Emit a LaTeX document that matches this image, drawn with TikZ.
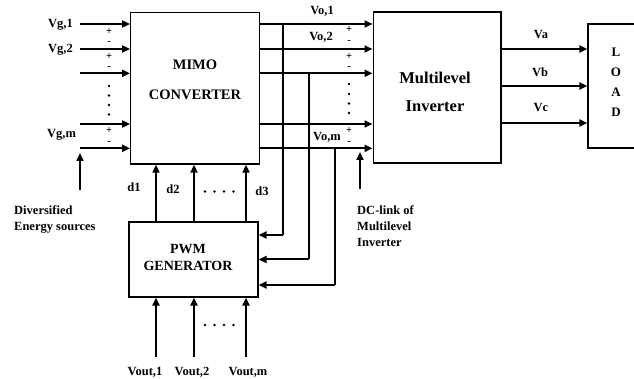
\documentclass[tikz,border=0pt]{standalone}
\usepackage{fontspec}
\setmainfont{Liberation Serif}
\usetikzlibrary{arrows.meta,calc}
\begin{document}
\begin{tikzpicture}[x=1pt,y=-1pt,
  blk/.style={draw,line width=1.3pt,minimum width=#1,inner sep=0pt},
  arr/.style={line width=2pt,-{Triangle[length=8pt,width=7pt]}},
  tap/.style={line width=1.6pt},
  lbl/.style={font=\bfseries\fontsize{12.5}{16}\selectfont,inner sep=0pt},
  sgn/.style={font=\bfseries\fontsize{10.5}{10.5}\selectfont,inner sep=0pt,text height=5pt,text depth=0pt},
  dot/.style={fill,circle,inner sep=0pt,minimum size=2.8pt}]
\useasboundingbox (0,0) rectangle (634,379);
% blocks
\node[blk=128.6pt,minimum height=151.7pt] (mimo) at (195,88.2) {};
\node[blk=127.7pt,minimum height=151pt] (mli) at (437,87.5) {};
\node[blk=50pt,minimum height=124pt] (load) at (613,86) {};
\node[blk=129pt,minimum height=75pt] (pwm) at (193.5,259.5) {};
\node[font=\bfseries\fontsize{14.5}{16}\selectfont,align=center] (mimot) at (195,80) {MIMO\\[14pt]CONVERTER};
\node[font=\bfseries\fontsize{16.5}{18}\selectfont,align=center] (mlit) at (435,91.5) {Multilevel\\[10pt]Inverter};
\node[font=\bfseries\fontsize{14}{17}\selectfont,align=center] (pwmt) at (188,257.5) {PWM\\GENERATOR};
\node[font=\bfseries\fontsize{13}{20}\selectfont,align=center,inner sep=0pt] (loadt) at (616,82) {L\\O\\A\\D};
% row coordinates
\foreach \i/\y in {1/24,2/49,3/73.3,4/124,5/148.3}{\coordinate (r\i) at (0,\y);}
% inputs
\foreach \i in {1,...,5}{\coordinate (in\i) at (80,0|-r\i);
  \draw[arr] (in\i) -- (mimo.west|-r\i);}
\node[lbl,anchor=west] (vg1) at (48,25) {Vg,1};
\node[lbl,anchor=west] (vg2) at (48,50) {Vg,2};
\node[lbl,anchor=west] (vgm) at (47,134.5) {Vg,m};
\foreach \y/\s in {32/+,42.5/-,57.5/+,67/-,131/+,142/-}{\node[sgn] at (109,\y) {\s};}
\foreach \y in {86,95.5,105,114.5}{\node[dot] at (109,\y) {};}
\coordinate (des) at (80,190);
\draw[arr] (des) -- (80,153);
\node[lbl,align=left,anchor=north west] (dest) at (14,205) {Diversified\\Energy sources};
% outputs MIMO -> inverter
\foreach \i in {1,...,5}{\draw[arr] (mimo.east|-r\i) -- (mli.west|-r\i);}
\node[lbl] (vo1) at (322,11) {Vo,1};
\node[lbl] (vo2) at (321,37) {Vo,2};
\node[lbl] (vom) at (327,137) {Vo,m};
\foreach \y/\s in {30.5/+,41/-,57.5/+,67/-,131.5/+,142/-}{\node[sgn] at (349,\y) {\s};}
\foreach \y in {84,94,103.5,113}{\node[dot] at (349,\y) {};}
\coordinate (dcl) at (360,189);
\draw[arr] (dcl) -- (360,152);
\node[lbl,align=left,anchor=north west] (dclt) at (357,205) {DC-link of\\Multilevel\\Inverter};
% taps to PWM
\coordinate (t1) at (283,0|-r1);
\coordinate (t2) at (309,0|-r3);
\coordinate (t3) at (335,0|-r5);
\draw[tap] (t1) -- (283,235);
\draw[tap] (t2) -- (309,259.5);
\draw[tap] (t3) -- (335,285);
\draw[arr] (283,235) -- (pwm.east|-0,235);
\draw[arr] (309,259.5) -- (pwm.east|-0,259.5);
\draw[arr] (335,285) -- (pwm.east|-0,285);
% duty signals
\foreach \x/\n in {156/1,194/2,246/3}{\draw[arr] (pwm.north-|\x,0) -- (mimo.south-|\x,0);
  \coordinate (vb\n) at (\x,357);
  \draw[arr] (vb\n) -- (pwm.south-|\x,0);}
\node[lbl] (d1) at (134,187) {d1};
\node[lbl] (d2) at (173,189) {d2};
\node[lbl] (d3) at (262,191) {d3};
\foreach \x in {205,214.5,224,233.5}{\node[dot] at (\x,191.5) {}; \node[dot] at (\x,325) {};}
\node[lbl] (vout1) at (145,372) {Vout,1};
\node[lbl] (vout2) at (192,372) {Vout,2};
\node[lbl] (voutm) at (248,372) {Vout,m};
% load
\foreach \y/\t in {49/a,86/b,123/c}{\draw[arr] (mli.east|-0,\y) -- (load.west|-0,\y);}
\node[lbl] (va) at (541,35) {Va};
\node[lbl] (vbb) at (540,72) {Vb};
\node[lbl] (vc) at (541,108) {Vc};
\end{tikzpicture}
\end{document}
